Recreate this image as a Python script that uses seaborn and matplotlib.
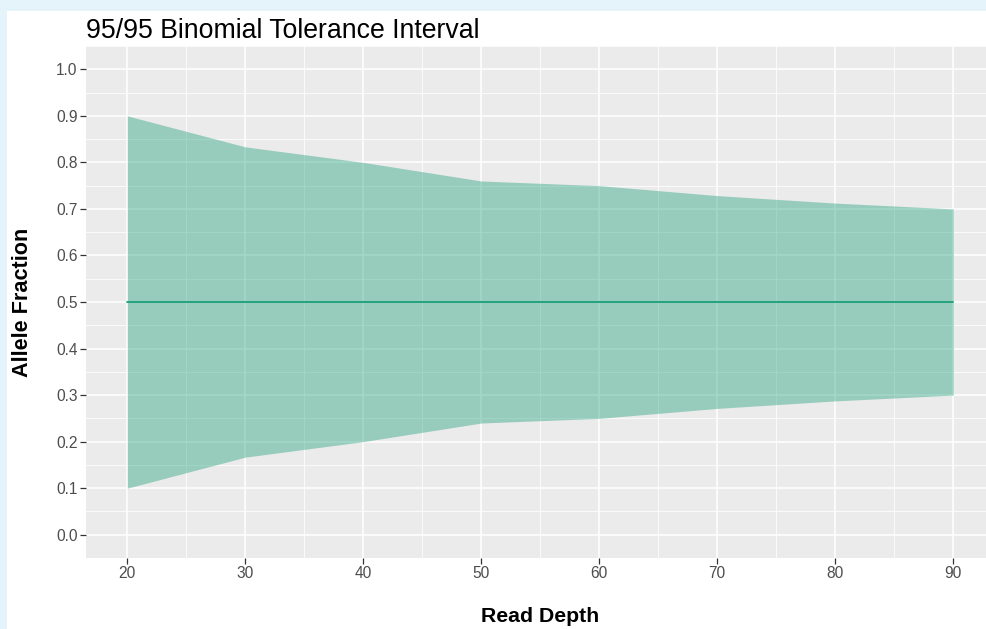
import matplotlib
matplotlib.use("Agg")
import matplotlib.pyplot as plt
import seaborn as sns
import pandas as pd
import numpy as np
from matplotlib.patches import Rectangle
from matplotlib.ticker import MultipleLocator

depth = [20, 30, 40, 50, 60, 70, 80, 90]
upper = [0.9, 0.8333, 0.8, 0.76, 0.75, 0.7286, 0.7125, 0.7]
lower = [0.1, 0.1667, 0.2, 0.24, 0.25, 0.2714, 0.2875, 0.3]
center = [0.5, 0.5, 0.5, 0.5, 0.5, 0.5, 0.5, 0.5]

df = pd.DataFrame({"depth": depth, "upper": upper, "lower": lower, "center": center})

sns.set_theme(style="darkgrid", rc={
    "axes.facecolor": "#EBEBEB",
    "grid.color": "white",
})
plt.rcParams["font.family"] = ["Liberation Sans", "DejaVu Sans"]

W, H = 987, 629
fig = plt.figure(figsize=(W / 100, H / 100), dpi=100, facecolor="#E5F3FB")
fig.patches.append(Rectangle((7 / W, 0), 1 - 7 / W, 1 - 11 / H, transform=fig.transFigure,
                             facecolor="white", edgecolor="none", zorder=-10))

ax = fig.add_axes([86 / W, 1 - 558 / H, 1 - 86 / W, 512 / H])
ax.set_zorder(5)
ax.set_facecolor("#EBEBEB")

green = "#1B9E77"
ax.fill_between(df["depth"], df["lower"], df["upper"], color=green, alpha=0.4,
                linewidth=0, zorder=3)
sns.lineplot(data=df, x="depth", y="center", ax=ax, color=green, linewidth=1.3, zorder=4)

ax.set_xlim(16.5, 20 + (W - 127.3) / 11.8)
ax.set_ylim(-0.05, 1.05)
ax.xaxis.set_major_locator(MultipleLocator(10))
ax.xaxis.set_minor_locator(MultipleLocator(5))
ax.yaxis.set_major_locator(MultipleLocator(0.1))
ax.yaxis.set_minor_locator(MultipleLocator(0.05))
ax.set_xticks(depth)
ax.set_yticks(np.round(np.arange(0, 1.01, 0.1), 1))
ax.set_yticklabels([f"{v:.1f}" for v in np.arange(0, 1.01, 0.1)])

ax.grid(which="major", color="white", linewidth=1.1, zorder=1)
ax.grid(which="minor", color="white", linewidth=0.55, zorder=1)
ax.set_axisbelow(True)
for s in ax.spines.values():
    s.set_visible(False)

ax.tick_params(axis="both", which="major", length=4, width=0.9, color="#333333",
               labelsize=11.2, labelcolor="#4D4D4D", pad=2, direction="out")
ax.tick_params(axis="both", which="minor", length=0)
ax.tick_params(axis="x", bottom=True)
ax.tick_params(axis="y", left=True)

ax.set_xlabel("")
ax.set_ylabel("")
fig.text(540 / W, 1 - 617 / H, "Read Depth", ha="center", va="center",
         fontsize=15.3, fontweight="bold", color="black")
fig.text(23 / W, 1 - 302 / H, "Allele Fraction", ha="center", va="center",
         rotation=90, fontsize=15.6, fontweight="bold", color="black")
fig.text(86 / W, 1 - 38 / H, "95/95 Binomial Tolerance Interval", ha="left",
         va="baseline", fontsize=19.2, color="black")

fig.savefig("out.png", dpi=100, facecolor=fig.get_facecolor())
